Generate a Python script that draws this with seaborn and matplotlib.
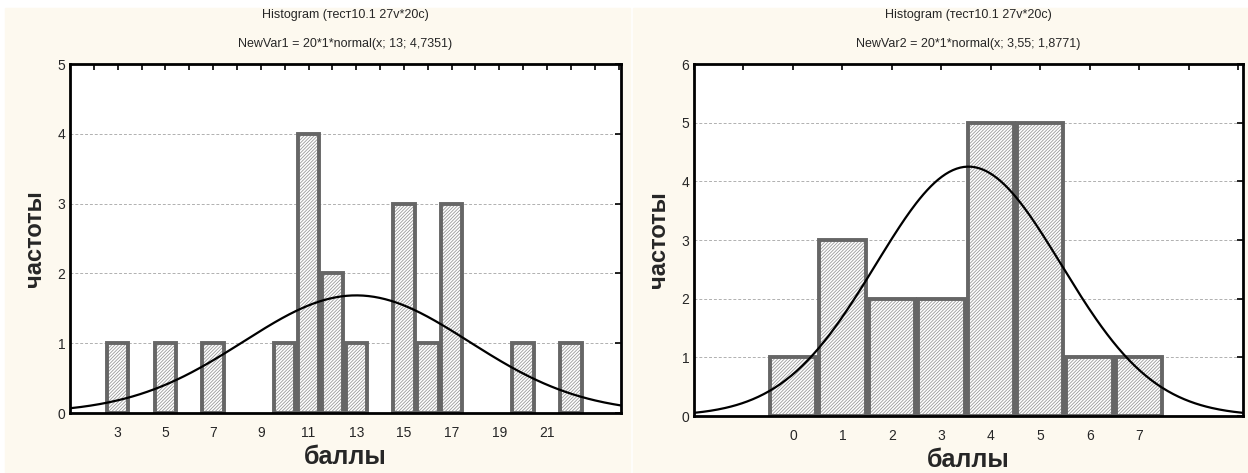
import numpy as np
import pandas as pd
import seaborn as sns
import matplotlib.pyplot as plt
from matplotlib.patches import Rectangle

# left panel: scores / frequencies
left_scores = [3, 5, 7, 10, 11, 12, 13, 15, 16, 17, 20, 22]
left_counts = [1, 1, 1, 1, 4, 2, 1, 3, 1, 3, 1, 1]
left_ticks = [3, 5, 7, 9, 11, 13, 15, 17, 19, 21]
left_mean, left_sd = 13, 4.7351

# right panel
right_scores = [0, 1, 2, 3, 4, 5, 6, 7]
right_counts = [1, 3, 2, 2, 5, 5, 1, 1]
right_ticks = [0, 1, 2, 3, 4, 5, 6, 7]
right_mean, right_sd = 3.55, 1.8771

n_total = 20
title_top = "Histogram (тест10.1 27v*20c)"
left_sub = "NewVar1 = 20*1*normal(x; 13; 4,7351)"
right_sub = "NewVar2 = 20*1*normal(x; 3,55; 1,8771)"

CREAM = "#fdf9ef"
EDGE = "#666666"
HATCH = "#9a9a9a"


def normal_curve(xmin, xmax, mean, sd):
    x = np.linspace(xmin, xmax, 300)
    y = n_total * np.exp(-0.5 * ((x - mean) / sd) ** 2) / (sd * np.sqrt(2 * np.pi))
    return pd.DataFrame({"x": x, "y": y})


def hide_empty(ax):
    # histplot makes zero-height bars for the empty bins, statistica doesn't draw them
    for p in ax.patches:
        if p.get_height() == 0:
            p.set_visible(False)


def draw_panel(ax, scores, counts, ticks, mean, sd, xlim, ymax, shrink, sub):
    df = pd.DataFrame({"score": scores, "count": counts})
    # hatched fill first (hatch takes the edge colour), then the dark outline on top
    sns.histplot(ax=ax, data=df, x="score", weights="count", discrete=True,
                 shrink=shrink, color="white", edgecolor=HATCH, linewidth=0,
                 hatch="/" * 10, alpha=1, zorder=2)
    sns.histplot(ax=ax, data=df, x="score", weights="count", discrete=True,
                 shrink=shrink, fill=False, color=EDGE, edgecolor=EDGE,
                 linewidth=2.8, zorder=2.5)
    hide_empty(ax)
    curve = normal_curve(xlim[0], xlim[1], mean, sd)
    sns.lineplot(ax=ax, data=curve, x="x", y="y", color="black", linewidth=1.6, zorder=3)

    ax.set_xlim(*xlim)
    ax.set_ylim(0, ymax)
    ax.set_xticks(ticks)
    ax.set_xticks(np.arange(np.ceil(xlim[0]), xlim[1], 1), minor=True)
    ax.set_yticks(range(ymax + 1))
    ax.tick_params(which="both", direction="in", top=True, right=True,
                   length=4, width=1.2, labelsize=10, color="black")
    ax.tick_params(axis="x", which="major", pad=9)
    ax.grid(axis="y", color="#b0b0b0", linestyle=(0, (3, 2)), linewidth=0.7)
    ax.grid(axis="x", visible=False)
    ax.set_axisbelow(True)
    for s in ax.spines.values():
        s.set_color("black")
        s.set_linewidth(2)
    ax.set_xlabel("баллы", fontsize=18, fontweight="bold", labelpad=4)
    ax.set_ylabel("частоты", fontsize=17, fontweight="bold", labelpad=8)

    cx = (ax.get_position().x0 + ax.get_position().x1) / 2
    ax.figure.text(cx, 1 - 15 / 473, title_top, ha="center", va="center", fontsize=9)
    ax.figure.text(cx, 1 - 44 / 473, sub, ha="center", va="center", fontsize=9)


def plot():
    sns.set_style("white")
    plt.rcParams["font.family"] = ["Liberation Sans", "DejaVu Sans"]
    plt.rcParams["hatch.linewidth"] = 0.6

    fig = plt.figure(figsize=(12.48, 4.73), dpi=100, facecolor="white")
    fig.patches.append(Rectangle((5 / 1248, 0), 625 / 1248, 465 / 473,
                                 transform=fig.transFigure, color=CREAM, zorder=-1))
    fig.patches.append(Rectangle((633 / 1248, 0), 615 / 1248, 465 / 473,
                                 transform=fig.transFigure, color=CREAM, zorder=-1))

    ax1 = fig.add_axes([70 / 1248, 60 / 473, 551 / 1248, 349 / 473])
    ax2 = fig.add_axes([694 / 1248, 57 / 473, 549 / 1248, 352 / 473])

    draw_panel(ax1, left_scores, left_counts, left_ticks, left_mean, left_sd,
               (1, 24.1), 5, 0.9, left_sub)
    draw_panel(ax2, right_scores, right_counts, right_ticks, right_mean, right_sd,
               (-2, 9.1), 6, 0.94, right_sub)

    plt.savefig("out.png", dpi=100, facecolor=fig.get_facecolor())


if __name__ == '__main__':
    plot()
